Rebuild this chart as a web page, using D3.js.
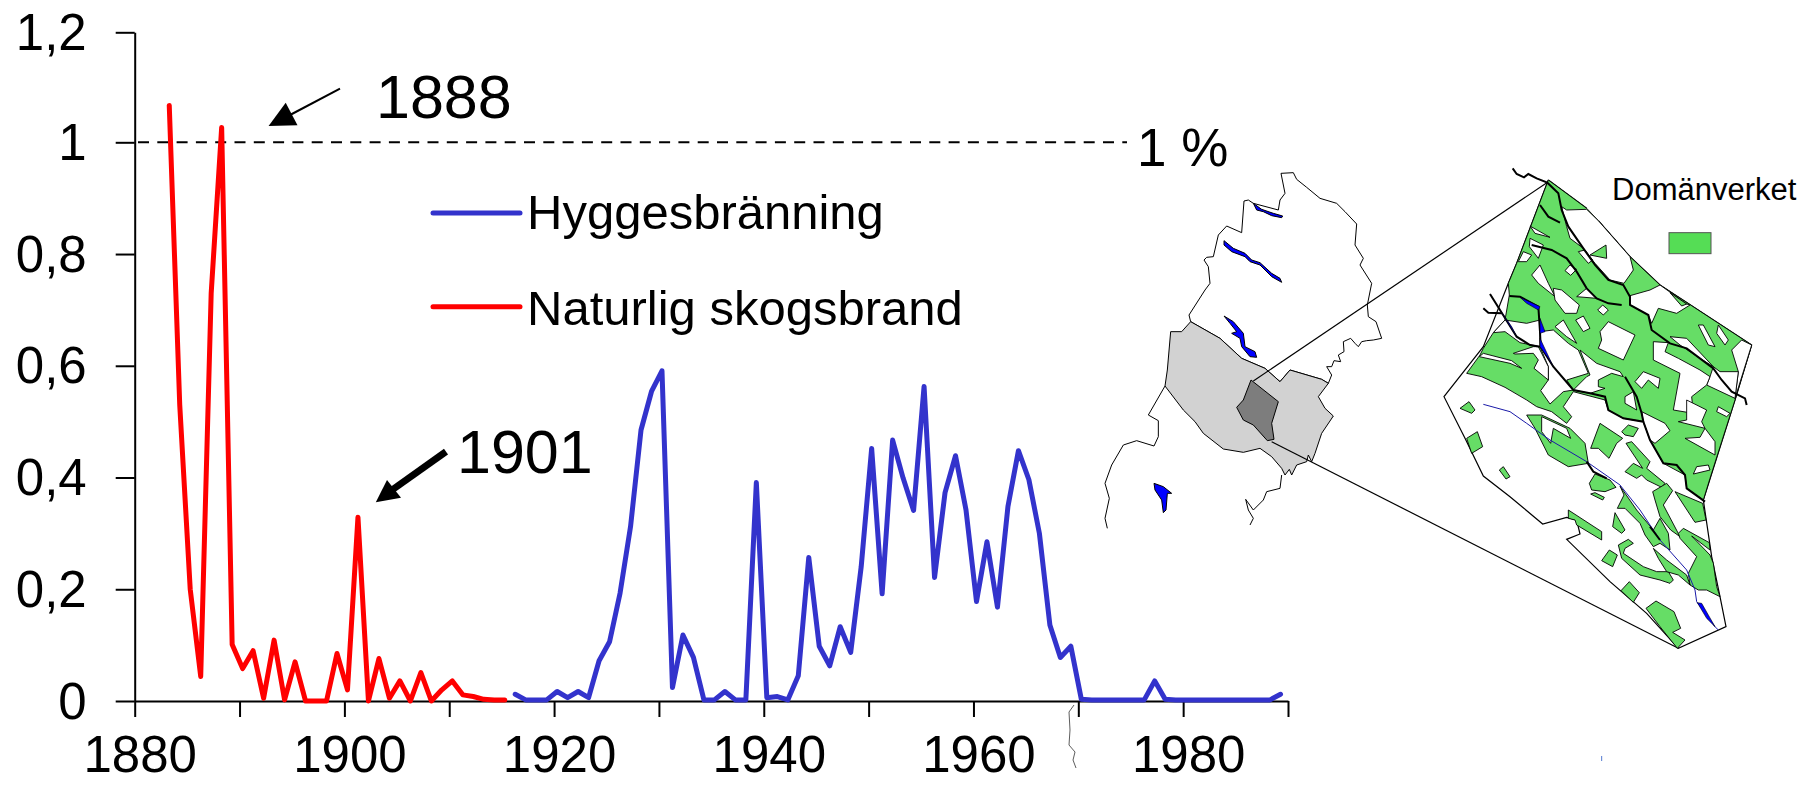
<!DOCTYPE html>
<html lang="sv">
  <head>
    <meta charset="utf-8">
    <title>Brandareal 1880-1990</title>
    <style>
      body { margin: 0; background: #fff; }
      text { font-family: 'Liberation Sans', Arial, sans-serif; fill: #000; }
    </style>
  </head>
  <body>
    <div id="chart-area"></div>
    <script src="https://cdnjs.cloudflare.com/ajax/libs/d3/7.8.5/d3.min.js"></script>
    <script>
      // values, year by year
      const red_years = d3.range(1883, 1916);
      const red_values = [1.067, 0.53, 0.2, 0.044, 0.73, 1.027, 0.101, 0.058, 0.09, 0.005, 0.109,
        0.002, 0.07, 0, 0, 0, 0.085, 0.02, 0.329, 0, 0.076, 0.005, 0.036, 0, 0.051, 0, 0.02, 0.036,
        0.011, 0.008, 0.003, 0.002, 0.002];
      const blue_years = d3.range(1916, 1990);
      const blue_values = [0.012, 0.002, 0.002, 0.002, 0.017, 0.006, 0.017, 0.006, 0.072, 0.106,
        0.193, 0.312, 0.485, 0.554, 0.591, 0.024, 0.118, 0.078, 0.002, 0.002, 0.017, 0.002, 0.002,
        0.391, 0.006, 0.008, 0.002, 0.045, 0.257, 0.098, 0.063, 0.133, 0.087, 0.24, 0.452, 0.192,
        0.467, 0.399, 0.341, 0.563, 0.221, 0.373, 0.439, 0.342, 0.178, 0.285, 0.168, 0.348, 0.448,
        0.396, 0.3, 0.136, 0.078, 0.098, 0.003, 0.002, 0.002, 0.002, 0.002, 0.002, 0.002, 0.036,
        0.003, 0.002, 0.002, 0.002, 0.002, 0.002, 0.002, 0.002, 0.002, 0.002, 0.002, 0.012];

      const x_ticks = d3.range(1880, 2000, 10);
      const x_tick_labels = ['1880', '', '1900', '', '1920', '', '1940', '', '1960', '', '1980', ''];
      const y_ticks = [0, 0.2, 0.4, 0.6, 0.8, 1, 1.2];
      const y_tick_labels = ['0', '0,2', '0,4', '0,6', '0,8', '1', '1,2'];
      const legend_names = ['Hyggesbränning', 'Naturlig skogsbrand'];
      const legend_colors = ['#3333cc', '#ff0000'];

      // inset map, traced in crop pixels of the reference, see map scales below
      const north_county = [[603,70],[640,68],[650,88],[680,112],[720,145],[770,160],[795,185],[830,222],[825,285],[850,325],[840,345],[875,400],[862,465],[865,500],[888,515],[905,565],[880,570],[860,572],[845,575],[835,590],[825,580],[812,565],[790,575],[792,605],[775,615],[782,635],[762,632],[755,650],[740,650],[755,675],[745,700],[725,688],[630,660],[600,695],[555,655],[485,625],[420,565],[332,515],[327,495],[375,420],[390,400],[385,350],[372,330],[380,322],[400,320],[415,255],[440,228],[485,248],[492,153],[505,150],[520,160],[595,180],[600,150],[615,130]];
      const gray_county = [[332,515],[420,565],[485,625],[555,655],[600,695],[630,660],[725,688],[745,700],[715,740],[735,775],[760,798],[725,850],[705,910],[695,935],[685,915],[680,935],[650,945],[635,975],[628,958],[615,975],[605,955],[575,920],[540,895],[490,907],[430,897],[370,850],[345,815],[310,780],[255,708],[262,660],[272,545],[305,545]];
      const dark_area = [[513,690],[595,755],[575,820],[582,868],[562,872],[520,825],[490,810],[470,772],[490,750]];
      const south_border = [[255,708],[205,795],[235,812],[235,860],[222,888],[170,872],[130,885],[95,945],[75,1000],[88,1045],[75,1105],[82,1135]];
      const south_coast = [[605,975],[600,1015],[560,1025],[550,1050],[520,1080],[497,1048],[505,1080],[520,1105],[510,1125]];
      const lakes = [
        [[520,160],[545,178],[580,190],[608,198],[605,203],[575,197],[550,185],[530,180]],
        [[432,272],[460,295],[495,310],[515,330],[540,338],[575,370],[600,385],[605,397],[575,380],[540,345],[510,335],[495,320],[455,305],[432,285]],
        [[432,498],[460,515],[490,550],[495,590],[525,605],[530,622],[510,620],[485,590],[480,565],[455,550],[470,545],[450,520]],
        [[222,1000],[250,1010],[275,1030],[262,1030],[258,1080],[250,1088],[245,1050],[225,1020]]
      ];

      const detail_outline = [[385,90],[500,175]];
      const detail_outline_rest = [[535,212],[630,320],[720,405],[995,585],[945,750],[850,1050],[875,1220],[900,1340],[918,1430],[775,1495],[680,1390],[570,1295],[440,1168],[480,1152],[470,1110],[440,1102],[368,1122],[270,1040],[190,978],[135,865],[72,740],[190,590],[265,400],[290,340],[385,90]];
      // upper part of the map is mostly forest land: one green base with white cut-outs
      const green_base = [[385,90],[500,175],[535,212],[630,320],[720,405],[995,585],[945,750],[905,875],[870,985],[850,1050],[800,1015],[795,975],[730,940],[690,870],[670,815],[610,805],[565,780],[555,750],[460,725],[430,770],[455,800],[440,820],[395,785],[350,770],[320,750],[255,712],[185,680],[140,670],[180,615],[190,595],[220,548],[255,510],[268,435],[265,400],[290,340]];
      const white_holes = [
        [[425,170],[440,180],[500,178],[535,212],[630,320],[640,360],[612,400],[570,390],[525,340],[490,295],[450,265],[440,230]],
        [[720,405],[800,462],[810,465],[770,490],[715,475],[695,520],[685,495],[630,465],[630,437],[690,420]],
        [[965,570],[995,585],[945,745],[955,665],[935,600]],
        [[880,650],[900,665],[955,665],[945,745],[860,705],[870,680]],
        [[835,525],[850,525],[885,590],[865,585]],
        [[895,525],[925,570],[915,585],[890,550]],
        [[750,560],[800,565],[880,650],[840,625],[780,585]],
        [[700,575],[745,578],[735,605],[775,625],[840,660],[870,680],[860,705],[815,740],[820,790],[760,780],[780,670],[700,630]],
        [[540,545],[565,515],[645,555],[610,630],[535,595],[545,570]],
        [[480,600],[530,640],[600,665],[610,680],[575,670],[535,690],[535,710],[555,715],[510,730],[460,720],[500,680],[510,675]],
        [[360,545],[400,540],[445,580],[475,600],[505,670],[440,690],[460,720],[430,725],[390,762],[362,722],[385,690],[385,650],[360,590]],
        [[255,510],[320,520],[360,510],[360,590],[300,578],[255,545],[220,548]],
        [[280,610],[340,590],[355,590],[385,650],[385,690],[342,655],[355,630],[340,610],[285,612]],
        [[190,610],[275,632],[305,655],[270,640],[178,620]],
        [[795,865],[840,862],[855,835],[885,875],[885,915]],
        [[800,750],[860,780],[845,815],[855,835],[775,815],[800,810]],
        [[895,770],[930,790],[920,800],[890,785]],
        [[830,950],[865,945],[870,960],[820,972]],
        [[665,785],[735,820],[750,842],[705,880],[690,870],[670,815]],
        [[615,740],[640,725],[650,780],[615,760]],
        [[645,695],[670,665],[720,685],[715,715],[685,690],[665,715]],
        [[330,228],[390,262],[345,250]],
        [[330,265],[370,285],[355,325],[328,290]],
        [[295,335],[310,305],[335,315],[320,335]],
        [[335,375],[360,345],[385,400],[405,440],[355,400]],
        [[450,345],[470,358],[452,376],[435,362]],
        [[400,415],[425,420],[478,465],[470,490],[435,490],[405,450]],
        [[470,440],[500,415],[530,445]],
        [[548,465],[565,480],[550,495],[533,480]],
        [[490,498],[510,535],[490,545],[467,510]],
        [[405,530],[430,510],[470,580],[440,560]],
        [[475,305],[495,300],[518,330],[505,340]]
      ];
      const green_areas = [
        [[510,315],[558,285],[560,325]],
        [[750,428],[800,462],[785,468]],
        [[320,795],[365,795],[450,835],[495,880],[505,940],[445,950],[385,915],[345,835]],
        [[120,775],[147,755],[165,780],[155,790]],
        [[140,865],[172,845],[188,890],[155,910]],
        [[238,960],[250,950],[270,980],[258,987]],
        [[512,895],[540,820],[608,865],[590,880],[567,925],[535,895]],
        [[605,845],[625,825],[655,835],[640,860],[615,855]],
        [[618,880],[635,875],[690,935],[680,955],[735,1000],[725,1012],[680,990],[665,975],[650,985],[615,965],[640,940],[668,955]],
        [[508,1000],[525,972],[570,990],[588,1012],[555,1025],[515,1020]],
        [[512,1032],[525,1028],[553,1042],[548,1050]],
        [[592,1075],[612,1035],[600,1008],[650,1080],[700,1140],[720,1105],[745,1150],[750,1200],[720,1180],[700,1190],[675,1155],[660,1120],[615,1075]],
        [[585,1088],[615,1140],[605,1150],[578,1130]],
        [[445,1080],[545,1145],[545,1170],[470,1125],[465,1110],[445,1105]],
        [[595,1185],[625,1168],[640,1180],[615,1195],[610,1210],[670,1250],[710,1265],[745,1265],[760,1290],[750,1300],[720,1290],[660,1275],[605,1225]],
        [[545,1232],[568,1200],[592,1215],[578,1250]],
        [[603,1322],[628,1295],[658,1328],[640,1357]],
        [[678,1375],[708,1353],[762,1385],[782,1435],[758,1447],[795,1470],[772,1495],[720,1430]],
        [[698,1025],[740,1000],[758,1022],[730,1065],[780,1160],[752,1140],[720,1100],[705,1050]],
        [[765,1025],[848,1060],[858,1110],[825,1117]],
        [[775,1150],[790,1135],[868,1178],[870,1200],[815,1158],[870,1215],[880,1240],[890,1310],[900,1340],[860,1320],[835,1320],[810,1305],[805,1270],[830,1220],[780,1165]],
        [[700,1195],[740,1230],[800,1275],[810,1305],[775,1275],[740,1265],[715,1225]]
      ];
      const green_notch = [[365,800],[440,835],[452,865],[400,835],[392,880],[365,845]];
      const black_rivers = [
        [[278,55],[290,72],[312,82],[325,72],[350,85],[382,98],[415,130],[425,180],[445,230],[490,295],[525,345],[565,390],[610,405],[630,440],[630,465],[685,495],[695,540],[750,580],[800,595],[880,655],[905,690],[935,725],[975,745],[980,765]],
        [[360,165],[385,200],[420,218]],
        [[335,285],[395,300],[440,325],[470,365],[500,415],[530,445],[565,460],[605,465]],
        [[268,438],[300,440],[355,470],[360,545],[362,590],[400,650],[460,720],[510,730],[555,740],[565,780],[610,805],[670,815],[690,870],[730,940],[770,945],[795,975],[800,1015],[855,1055]],
        [[615,680],[650,740],[665,790],[670,815]],
        [[210,432],[240,480],[290,560],[330,585],[360,590]],
        [[190,475],[205,488],[245,490]],
        [[500,935],[520,965],[560,985]],
        [[690,1130],[720,1170]]
      ];
      const blue_river = [[190,763],[270,785],[320,820],[390,870],[500,935],[600,1005],[660,1080],[720,1170],[800,1260],[825,1320],[830,1355],[885,1430],[895,1440]];
      const blue_water = [
        [[300,442],[360,470],[355,480],[320,460]],
        [[360,505],[375,545],[360,550]],
        [[360,565],[400,650],[385,625],[360,590]],
        [[240,480],[290,560],[275,530]],
        [[832,1358],[845,1360],[885,1430],[860,1405]]
      ];

      const svg_width = 1804;
      const svg_height = 787;

      function draw_chart() {
        const svg = d3.select('#chart-area')
          .append('svg')
          .attr('width', svg_width)
          .attr('height', svg_height);

        const x_scale = d3.scaleLinear().domain([1880, 1990]).range([134.7, 1288]);
        // the points sit a little right of their tick, as in the original
        const x_points = d3.scaleLinear().domain([1880, 1990]).range([137.8, 1291]);
        const y_scale = d3.scaleLinear().domain([0, 1, 1.2]).range([701, 142.3, 32.3]);

        draw_map(svg);

        // dashed 1 % line
        svg.append('line')
          .attr('x1', 138).attr('x2', 1127)
          .attr('y1', y_scale(1)).attr('y2', y_scale(1))
          .attr('stroke', '#000').attr('stroke-width', 2)
          .attr('stroke-dasharray', '11,8.3');

        const x_axis = d3.axisBottom(x_scale)
          .tickValues(x_ticks)
          .tickSize(16)
          .tickSizeOuter(0)
          .tickPadding(19)
          .tickFormat((d, i) => x_tick_labels[i]);
        const y_axis = d3.axisLeft(y_scale)
          .tickValues(y_ticks)
          .tickSize(19)
          .tickSizeOuter(0)
          .tickPadding(29)
          .tickFormat((d, i) => y_tick_labels[i]);

        const gx = svg.append('g').attr('transform', `translate(0,${y_scale(0)})`).call(x_axis);
        const gy = svg.append('g').attr('transform', `translate(${x_scale(1880)},0)`).call(y_axis);
        [gx, gy].forEach(g => {
          g.selectAll('path, line').attr('stroke', '#000').attr('stroke-width', 2);
          g.selectAll('text').attr('font-size', 51).attr('font-family', null);
        });
        gx.selectAll('text').attr('dx', 5);
        gy.selectAll('text').attr('dy', 17);

        const line = d3.line()
          .x(d => x_points(d[0]))
          .y(d => y_scale(d[1]));

        svg.append('path')
          .datum(blue_years.map((d, i) => [d, blue_values[i]]))
          .attr('d', line)
          .attr('fill', 'none').attr('stroke', legend_colors[0])
          .attr('stroke-width', 5).attr('stroke-linejoin', 'round').attr('stroke-linecap', 'round');
        svg.append('path')
          .datum(red_years.map((d, i) => [d, red_values[i]]))
          .attr('d', line)
          .attr('fill', 'none').attr('stroke', legend_colors[1])
          .attr('stroke-width', 5).attr('stroke-linejoin', 'round').attr('stroke-linecap', 'round');

        // legend
        const legend = svg.selectAll('.legend').data(legend_names).enter()
          .append('g').attr('class', 'legend');
        legend.append('line')
          .attr('x1', 433).attr('x2', 520)
          .attr('y1', (d, i) => 213 + i * 93.7).attr('y2', (d, i) => 213 + i * 93.7)
          .attr('stroke', (d, i) => legend_colors[i])
          .attr('stroke-width', 5).attr('stroke-linecap', 'round');
        legend.append('text')
          .text(d => d)
          .attr('x', 527)
          .attr('y', (d, i) => 229 + i * 96)
          .attr('font-size', 49);

        // annotations
        svg.append('text').text('1888').attr('x', 376).attr('y', 118).attr('font-size', 61);
        svg.append('text').text('1901').attr('x', 457).attr('y', 473).attr('font-size', 61);
        svg.append('text').text('1 %').attr('x', 1137).attr('y', 166).attr('font-size', 53);

        svg.append('line').attr('x1', 340).attr('y1', 88.7).attr('x2', 290).attr('y2', 115)
          .attr('stroke', '#000').attr('stroke-width', 2);
        svg.append('polygon').attr('points', '268.6,126 285.7,102.7 297.5,125.3').attr('fill', '#000');
        svg.append('line').attr('x1', 446).attr('y1', 451.7).attr('x2', 392).attr('y2', 490)
          .attr('stroke', '#000').attr('stroke-width', 7);
        svg.append('polygon').attr('points', '375.8,502.3 387,480 401,497.7').attr('fill', '#000');
      }

      function draw_map(svg) {
        // crop pixels to page pixels
        const over_x = d3.scaleLinear().domain([0, 1200]).range([1080, 1480]);
        const over_y = d3.scaleLinear().domain([0, 1200]).range([150, 550]);
        const detail_x = d3.scaleLinear().domain([0, 1152]).range([1420, 1804]);
        const detail_y = d3.scaleLinear().domain([0, 780]).range([150, 410]);

        const over_line = d3.line().x(d => over_x(d[0])).y(d => over_y(d[1]));
        const detail_line = d3.line().x(d => detail_x(d[0])).y(d => detail_y(d[1]));
        const closed = (gen, pts) => gen(pts) + 'Z';

        svg.append('path').attr('d', closed(over_line, north_county))
          .attr('fill', '#fff').attr('stroke', '#000').attr('stroke-width', 1);
        svg.append('path').attr('d', closed(over_line, gray_county))
          .attr('fill', '#d2d2d2').attr('stroke', '#000').attr('stroke-width', 1);
        svg.append('path').attr('d', closed(over_line, dark_area))
          .attr('fill', '#7d7d7d').attr('stroke', '#000').attr('stroke-width', 1);
        [south_border, south_coast].forEach(pts => {
          svg.append('path').attr('d', over_line(pts))
            .attr('fill', 'none').attr('stroke', '#000').attr('stroke-width', 1);
        });
        svg.selectAll('.lake').data(lakes).enter()
          .append('path').attr('class', 'lake')
          .attr('d', d => closed(over_line, d))
          .attr('fill', '#0000ff').attr('stroke', '#000').attr('stroke-width', 1);

        // leader lines from the overview to the detail map
        svg.append('line')
          .attr('x1', over_x(520)).attr('y1', over_y(693))
          .attr('x2', detail_x(385)).attr('y2', detail_y(95))
          .attr('stroke', '#000').attr('stroke-width', 1.2);
        svg.append('line')
          .attr('x1', over_x(575)).attr('y1', over_y(875))
          .attr('x2', detail_x(775)).attr('y2', detail_y(1495))
          .attr('stroke', '#000').attr('stroke-width', 1.2);

        // bits of the map sticking out below the axis
        svg.append('path')
          .attr('d', 'M1074,705 L1069,712 L1070,730 L1069,745 L1075,752 L1073,760 L1076,768')
          .attr('fill', 'none').attr('stroke', '#333').attr('stroke-width', 0.8);
        svg.append('rect').attr('x', 1601).attr('y', 756).attr('width', 1.2).attr('height', 5)
          .attr('fill', '#6f8fd8');

        // detail map
        [detail_outline, detail_outline_rest].forEach(pts => {
          svg.append('path').attr('d', detail_line(pts))
            .attr('fill', 'none').attr('stroke', '#000').attr('stroke-width', 1.2);
        });
        svg.append('path').attr('d', closed(detail_line, green_base))
          .attr('fill', '#66dd66').attr('stroke', '#000').attr('stroke-width', 0.9);
        svg.selectAll('.hole').data(white_holes).enter()
          .append('path').attr('class', 'hole')
          .attr('d', d => closed(detail_line, d))
          .attr('fill', '#fff').attr('stroke', '#000').attr('stroke-width', 0.9);
        svg.selectAll('.green').data(green_areas).enter()
          .append('path').attr('class', 'green')
          .attr('d', d => closed(detail_line, d))
          .attr('fill', '#66dd66').attr('stroke', '#000').attr('stroke-width', 0.9);
        svg.append('path').attr('d', closed(detail_line, green_notch))
          .attr('fill', '#fff').attr('stroke', '#000').attr('stroke-width', 0.9);
        svg.append('path').attr('d', detail_line(blue_river))
          .attr('fill', 'none').attr('stroke', '#1a1aa8').attr('stroke-width', 1);
        svg.selectAll('.river').data(black_rivers).enter()
          .append('path').attr('class', 'river')
          .attr('d', d => detail_line(d))
          .attr('fill', 'none').attr('stroke', '#000').attr('stroke-width', 2);
        svg.selectAll('.water').data(blue_water).enter()
          .append('path').attr('class', 'water')
          .attr('d', d => closed(detail_line, d))
          .attr('fill', '#0000ff').attr('stroke', '#000').attr('stroke-width', 0.6);

        svg.append('text').text('Domänverket')
          .attr('x', 1612).attr('y', 200).attr('font-size', 31);
        svg.append('rect')
          .attr('x', detail_x(747)).attr('y', detail_y(248))
          .attr('width', 42).attr('height', 21)
          .attr('fill', '#55dd55').attr('stroke', '#555').attr('stroke-width', 1);
      }

      draw_chart();
    </script>
  </body>
</html>
